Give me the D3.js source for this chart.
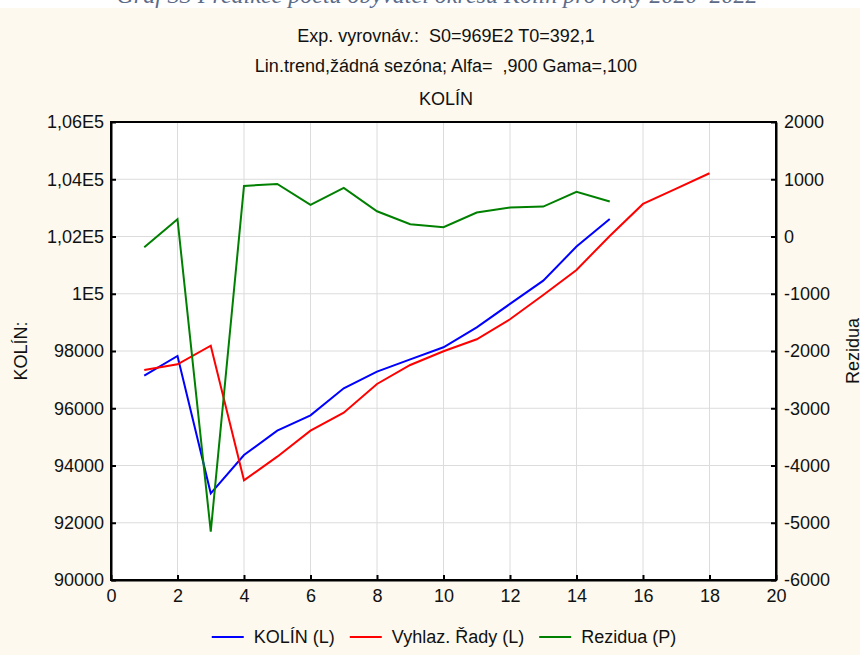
<!DOCTYPE html>
<html>
<head>
<meta charset="utf-8">
<script src="https://cdn.jsdelivr.net/npm/d3@7"></script>
<style>
  body { margin: 0; background: #fdf9ee; }
  svg { display: block; }
  text { font-family: "Liberation Sans", Arial, sans-serif; fill: #111; white-space: pre; }
</style>
</head>
<body>
<div id="chart"></div>
<script>
/* data */
var years = [1, 2, 3, 4, 5, 6, 7, 8, 9, 10, 11, 12, 13, 14, 15]
var kolin = [97138, 97825, 93028, 94367, 95217, 95753, 96696, 97278, 97709, 98129, 98828, 99644, 100459, 101647, 102614]
var smoothYears = [1, 2, 3, 4, 5, 6, 7, 8, 9, 10, 11, 12, 13, 14, 15, 16, 17, 18]
var smoothed = [97336, 97534, 98186, 93481, 94308, 95217, 95846, 96847, 97511, 97990, 98409, 99108, 99958, 100832, 102020, 103138, 103674, 104210]
var residuals = [-188, 301, -5156, 884, 918, 552, 849, 441, 214, 161, 418, 505, 522, 779, 610]

var xTicks = [0, 2, 4, 6, 8, 10, 12, 14, 16, 18, 20]
var leftTicks = [90000, 92000, 94000, 96000, 98000, 100000, 102000, 104000, 106000]
var leftTickLabels = ["90000", "92000", "94000", "96000", "98000", "1E5", "1,02E5", "1,04E5", "1,06E5"]
var rightTicks = [-6000, -5000, -4000, -3000, -2000, -1000, 0, 1000, 2000]

var titleText = "Graf 33 Predikce počtu obyvatel okresu Kolín pro roky 2020–2022"
var subtitles = ["Exp. vyrovnáv.:  S0=969E2 T0=392,1", "Lin.trend,žádná sezóna; Alfa=  ,900 Gama=,100", "KOLÍN"]
var legendItems = [
  { name: "KOLÍN (L)", color: "#0000ff" },
  { name: "Vyhlaz. Řady (L)", color: "#ff0000" },
  { name: "Rezidua (P)", color: "#008000" }
]

var W = 860, H = 655
var margin = { top: 122, right: 84, bottom: 75, left: 111 }
var plotW = W - margin.left - margin.right
var plotH = H - margin.top - margin.bottom
var FS = "18px"

var svg = d3.select("#chart").append("svg")
    .attr("width", W)
    .attr("height", H)

svg.append("rect").attr("width", W).attr("height", H).attr("fill", "#fdf9ee")
// white strip with the cut off caption of the document
svg.append("rect").attr("width", W).attr("height", 8).attr("fill", "#ffffff")
svg.append("text")
    .attr("x", 437).attr("y", 3)
    .attr("text-anchor", "middle")
    .style("font-family", "'Liberation Serif', 'DejaVu Serif', serif")
    .style("font-style", "italic")
    .style("font-size", "24px")
    .style("fill", "#5b6b88")
    .text(titleText)

var subY = [42, 72, 105]
subtitles.forEach(function (s, i) {
  svg.append("text")
      .attr("x", 446).attr("y", subY[i])
      .attr("text-anchor", "middle")
      .style("font-size", FS)
      .text(s)
})

var x = d3.scaleLinear().domain([0, 20]).range([0, plotW])
var yL = d3.scaleLinear().domain([90000, 106000]).range([plotH, 0])
var yR = d3.scaleLinear().domain([-6000, 2000]).range([plotH, 0])

var g = svg.append("g")
    .attr("transform", "translate(" + margin.left + "," + margin.top + ")")

g.append("rect").attr("width", plotW).attr("height", plotH).attr("fill", "#ffffff")

// grid
g.append("g").attr("class", "grid")
    .selectAll("line.v").data(xTicks.slice(1, -1)).enter().append("line")
    .attr("x1", function (d) { return x(d) }).attr("x2", function (d) { return x(d) })
    .attr("y1", 0).attr("y2", plotH)
    .attr("stroke", "#dcdcdc").attr("stroke-width", 1)
g.append("g").attr("class", "grid")
    .selectAll("line.h").data(leftTicks.slice(1, -1)).enter().append("line")
    .attr("x1", 0).attr("x2", plotW)
    .attr("y1", function (d) { return yL(d) }).attr("y2", function (d) { return yL(d) })
    .attr("stroke", "#dcdcdc").attr("stroke-width", 1)

// axes
var xAxis = d3.axisBottom(x).tickValues(xTicks).tickSizeInner(-5).tickSizeOuter(0).tickPadding(9)
var yAxisL = d3.axisLeft(yL).tickValues(leftTicks).tickSizeInner(-5).tickSizeOuter(0).tickPadding(7)
    .tickFormat(function (d, i) { return leftTickLabels[i] })
var yAxisR = d3.axisRight(yR).tickValues(rightTicks).tickSizeInner(-5).tickSizeOuter(0).tickPadding(8)
    .tickFormat(function (d) { return String(d) })

function styleAxis(sel) {
  sel.selectAll("path, line").attr("stroke", "#000").attr("stroke-width", 2)
  sel.selectAll("text").style("font-size", FS).style("font-family", "'Liberation Sans', Arial, sans-serif").attr("fill", "#111")
}

g.append("g").attr("transform", "translate(0," + plotH + ")").call(xAxis).call(styleAxis)
g.append("g").call(yAxisL).call(styleAxis)
g.append("g").attr("transform", "translate(" + plotW + ",0)").call(yAxisR).call(styleAxis)

g.append("rect").attr("width", plotW).attr("height", plotH)
    .attr("fill", "none").attr("stroke", "#000").attr("stroke-width", 2)

// series
var lineL = d3.line().x(function (d) { return x(d[0]) }).y(function (d) { return yL(d[1]) })
var lineR = d3.line().x(function (d) { return x(d[0]) }).y(function (d) { return yR(d[1]) })

g.append("path").datum(d3.zip(years, kolin))
    .attr("d", lineL).attr("fill", "none").attr("stroke", "#0000ff").attr("stroke-width", 2)
g.append("path").datum(d3.zip(smoothYears, smoothed))
    .attr("d", lineL).attr("fill", "none").attr("stroke", "#ff0000").attr("stroke-width", 2)
g.append("path").datum(d3.zip(years, residuals))
    .attr("d", lineR).attr("fill", "none").attr("stroke", "#008000").attr("stroke-width", 2)

// axis titles
svg.append("text")
    .attr("transform", "translate(27,351) rotate(-90)")
    .attr("text-anchor", "middle")
    .style("font-size", FS)
    .text("KOLÍN:")
svg.append("text")
    .attr("transform", "translate(859,351) rotate(-90)")
    .attr("text-anchor", "middle")
    .style("font-size", FS)
    .text("Rezidua")

// legend
var legend = svg.append("g")
var lx = 0
legendItems.forEach(function (d) {
  var item = legend.append("g").attr("transform", "translate(" + lx + ",0)")
  item.append("line").attr("x1", 0).attr("x2", 32).attr("y1", 0).attr("y2", 0)
      .attr("stroke", d.color).attr("stroke-width", 2)
  var t = item.append("text").attr("x", 42).attr("y", 6).style("font-size", FS).text(d.name)
  lx += 42 + t.node().getComputedTextLength() + 15
})
var legendW = lx - 15
legend.attr("transform", "translate(" + (444 - legendW / 2) + ",637)")
</script>
</body>
</html>
